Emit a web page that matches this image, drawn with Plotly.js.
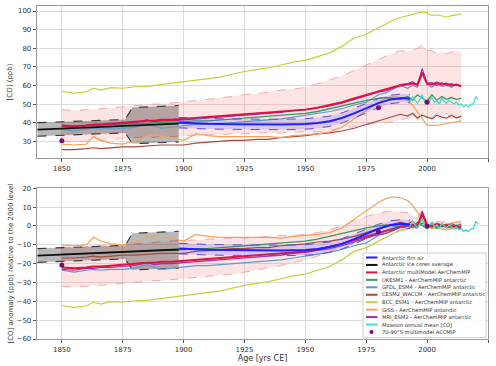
<!DOCTYPE html>
<html>
<head>
<meta charset="utf-8">
<script src="https://cdn.plot.ly/plotly-3.0.1.min.js"></script>
<style>html,body{margin:0;padding:0;background:#fff}#chart{width:496px;height:366px}</style>
</head>
<body>
<div id="chart"></div>
<script>
// ---------- data ----------
const YEARS = [1850,1855,1860,1863,1866,1870,1875,1880,1885,1888,1891,1895,1900,1905,1910,1915,1920,1925,1930,1935,1940,1945,1950,1955,1960,1965,1970,1975,1980,1983,1986,1989,1992,1994,1996,1998,2000,2002,2004,2006,2008,2010,2012,2014];
const MULTI = [38.5,38,38.5,39,39,39.5,40,40.5,41,41,41.5,41.5,42,42.5,43,43.5,44,44.5,45,45.5,46,46.5,47,48,49.5,51,53,55,57,58,59,60,60.5,61,60.5,67,61,60.5,61.5,60.5,61,60,60.5,59.5];
const MULTI_UP = [47,46.5,47,47,47.5,48,48.5,49,49.5,50,50,50.5,51,52,52.5,53.5,54,55,55.5,56.5,57.5,58,59,61,63,65,68,71,74,76,77.5,78.5,78.5,79,80,82,79,78.5,77.5,78,77,78,78.5,78];
const MULTI_LO = [30,29.5,30,31,30.5,31,31.5,32,32.5,32,33,32.5,33,33,33.5,33.5,34,34,34.5,34.5,34.5,35,35,35,36,37,38,39,40,40,40.5,41.5,42.5,43,41,45,43,42.5,45,43,45,42,42.5,41];
const ANOM_UP = [-11,-11.5,-11,-10.5,-10.5,-10.5,-10,-9.5,-9,-8.5,-8.5,-8,-7.5,-7.5,-7,-7,-6.5,-6.5,-6,-5.5,-5,-5,-4.5,-3.5,-2,0,3,5,7,7.5,8,7.5,7,5.5,4,9,1.5,2,2.5,2,2.5,1.5,2,1.5];
const ANOM_LO = [-32,-32.5,-32,-31.5,-31.5,-31,-30.5,-30,-29.5,-29,-29,-28.5,-28,-27.5,-27,-26,-25.5,-24.5,-23.5,-22,-21,-19.5,-18,-16,-13.5,-11,-9,-6.5,-4.5,-3.5,-3,-2,-2,-1.5,-1,3,-1,-1.5,-1,-1.5,-1,-2,-1.5,-1.5];
const UKESM1 = [38,38,38.5,38.5,38.5,39,39,39.5,39.5,40,40,40,40.5,41,41,41.5,42,42.5,43,43.5,44,44.5,45,46,47.5,49,50.5,52,53,53.5,53,52.5,54,52,55,53,51.5,55,52,54,52.5,53.5,52.5,53];
const GFDL = [36.5,35.5,36.5,37,36.5,37,37,37.5,39.5,38,37,37.5,38.5,39,39,39.5,40,40.5,41,41.5,42,43,44,45,46,47.5,49.5,51,55,56,58,60,58.5,60,59,66,60.5,59,61,59.5,60,59,60.5,59.5];
const CESM2 = [25.5,25.5,26,26.5,26,26.5,27,27,27.5,27.5,28,28,28,29,29.5,30,30.5,30.5,31,31,32,32.5,33,34,34.5,35.5,37,39,41,42,43.5,44.5,43.5,45,42.5,44,43,42,44,43,42.5,44,42.5,43.5];
const BCC = [56.8,55.8,56.5,58.5,57.5,58.8,58.5,59.3,59.5,60,60.5,61,62,62.8,63.5,64.5,66,67.5,68.5,69.5,71,72.5,73.5,75.5,77.5,81,85.5,87.5,91,93,95,96.5,97.5,98,98.5,99.5,99,97.5,98,97.5,96.8,97.5,98,98.3];
const GISS = [28.5,28,28.5,32.5,30.5,29,28.5,30,32.5,33.5,32.5,32,30.5,34,33,32.5,32.5,32.5,32.5,32.5,32,33,33.5,34,35,37.5,42,46.5,51,53,54,53.5,52,49.5,46,42,38.5,38.5,38.5,39,39.5,40,40.5,41];
const MRI = [38,37.5,38.5,38.5,39,39,39.5,40,41.5,40.5,41,41,41.5,42,42.5,43,43.5,44,44.5,45,45.5,46.5,47,48,49,50.5,52.5,54.5,56.5,57,58.5,60.5,61,62,60,69,61,61.5,60,61.5,60,61,60,60];

const MAWSON_YEARS = [1992,1993,1994,1995,1996,1997,1998,1999,2000,2001,2002,2003,2004,2005,2006,2007,2008,2009,2010,2011,2012,2013,2014,2015,2016,2017,2018,2019,2020,2021];
const MAWSON = [53,51.5,54,52,50.5,52.5,55,51,50.5,52,53.5,51,52,50,53,51.5,50.5,52,51,50,51,49.5,50,48.5,49.5,48.5,50,50,54,52.5];

const FIRN_YEARS = [1898,1905,1910,1920,1930,1940,1950,1955,1960,1965,1970,1975,1980,1985,1990,1993];
const FIRN = [40,39.6,39.4,39.2,39,39,39.3,39.8,40.8,42.5,45,47.8,50.5,52.5,53.2,52.8];
const FIRN_UP = [42.8,42.4,42.2,42,41.8,41.8,42.1,42.6,43.5,45.2,47.6,50.3,52.9,54.8,55.4,55];
const FIRN_LO = [37.2,36.8,36.6,36.4,36.2,36.2,36.5,37,38,39.8,42.4,45.3,48.1,50.2,51,50.6];

const ICE_YEARS = [1840,1850,1860,1870,1880,1890,1898];
const ICE = [36.3,36.8,37.4,38,38.6,39.1,39.5];
const ICE_BAND_YEARS = [1840,1876,1879,1898];
const ICE_UP = [40,41.7,48.1,49.2];
const ICE_LO = [32.7,34.5,28.7,29.6];

const ACCMIP_YEARS = [1850,1980,2000];
const ACCMIP = [30.3,48,51];

// levels in 2000 used for the anomaly panel
const REF = {multi:60.5, ukesm:53, gfdl:60, cesm:42.5, bcc:99, giss:38.5, mri:61, mawson:51.5, obs:52, accmip:51};

const LEGEND_LABELS = ["Antarctic firn air","Antarctic ice cores average","Antarctic multiModel AerChemMIP","UKESM1 - AerChemMIP antarctic","GFDL_ESM4 - AerChemMIP antarctic","CESM2_WACCM - AerChemMIP antarctic","BCC_ESM1 - AerChemMIP antarctic","GISS - AerChemMIP antarctic","MRI_ESM2 - AerChemMIP antarctic","Mawson annual mean [CO]","70-90°S multimodel ACCMIP"];

// ---------- styles ----------
const C = {firn:'#1f1fff', ice:'#111111', multi:'#e3103f', ukesm:'#3a9a58', gfdl:'#5b9bd0', cesm:'#a34a42', bcc:'#c9cc3c', giss:'#f6a058', mri:'#9a2fb5', mawson:'#3fdcd0', accmip:'#7a0a7a'};
const LEG_COLORS = [C.firn,C.ice,C.multi,C.ukesm,C.gfdl,C.cesm,C.bcc,C.giss,C.mri,C.mawson,C.accmip];

const anom = (arr, ref) => arr.map(v => Math.round((v - ref)*100)/100);

function panel(xa, ya, isAnom) {
  const f = (arr, ref) => isAnom ? anom(arr, ref) : arr;
  const L = (x, y, color, width, dash, extra) => Object.assign({x, y, xaxis:xa, yaxis:ya, type:'scatter', mode:'lines', showlegend:false, hoverinfo:'skip', line:{color, width, dash: dash||'solid'}}, extra||{});
  const t = [];
  // multi-model spread band
  if (isAnom) {
    t.push(L(YEARS, ANOM_LO, '#f2a0a0', 0.9, 'dash'));
    t.push(L(YEARS, ANOM_UP, '#f2a0a0', 0.9, 'dash', {fill:'tonexty', fillcolor:'rgba(240,120,120,0.2)'}));
  } else {
    t.push(L(YEARS, MULTI_LO, '#f2a0a0', 0.9, 'dash'));
    t.push(L(YEARS, MULTI_UP, '#f2a0a0', 0.9, 'dash', {fill:'tonexty', fillcolor:'rgba(240,120,120,0.2)'}));
  }
  // ice cores band
  t.push(L(ICE_BAND_YEARS, f(ICE_LO, REF.obs), '#333', 1.1, 'dash'));
  t.push(L(ICE_BAND_YEARS, f(ICE_UP, REF.obs), '#333', 1.1, 'dash', {fill:'tonexty', fillcolor:'rgba(0,0,0,0.28)'}));
  // models
  t.push(L(YEARS, f(CESM2, REF.cesm), C.cesm, 1.2));
  t.push(L(YEARS, f(GISS, REF.giss), C.giss, 1.2));
  t.push(L(YEARS, f(BCC, REF.bcc), C.bcc, 1.2));
  t.push(L(YEARS, f(GFDL, REF.gfdl), C.gfdl, 1.2));
  t.push(L(YEARS, f(UKESM1, REF.ukesm), C.ukesm, 1.3));
  t.push(L(YEARS, f(MRI, REF.mri), C.mri, 1.2));
  t.push(L(YEARS, f(MULTI, REF.multi), C.multi, 2));
  t.push(L(MAWSON_YEARS, f(MAWSON, REF.mawson), C.mawson, 1.3));
  // firn air
  t.push(L(FIRN_YEARS, f(FIRN_LO, REF.obs), '#5a4fe0', 1, 'dash'));
  t.push(L(FIRN_YEARS, f(FIRN_UP, REF.obs), '#5a4fe0', 1, 'dash', {fill:'tonexty', fillcolor:'rgba(70,70,255,0.18)'}));
  t.push(L(FIRN_YEARS, f(FIRN, REF.obs), C.firn, 2));
  t.push(L(ICE_YEARS, f(ICE, REF.obs), C.ice, 1.8));
  t.push({x:ACCMIP_YEARS, y:f(ACCMIP, REF.accmip), xaxis:xa, yaxis:ya, type:'scatter', mode:'markers', showlegend:false, hoverinfo:'skip', marker:{color:C.accmip, size:5}});
  return t;
}

const data = panel('x','y',false).concat(panel('x2','y2',true));

// ---------- layout ----------
const W = 496, H = 366, ML = 37, MR = 8, MT = 6, MB = 27;
const PW = W - ML - MR, PH = H - MT - MB;
const px2x = p => (p - ML) / PW;
const py2y = p => (H - MB - p) / PH;

const font = {family:'DejaVu Sans, Arial, sans-serif', size:7, color:'#333'};
const axX = {range:[1839.8, 2025], tickvals:[1850,1875,1900,1925,1950,1975,2000,2025], ticks:'outside', ticklen:3, tickcolor:'#555', tickfont:font,
  showgrid:true, gridcolor:'#dcdcdc', gridwidth:1, showline:true, linecolor:'#9a9a9a', linewidth:1.3, mirror:true, zeroline:false};
const axY = {ticks:'outside', ticklen:3, tickcolor:'#555', tickfont:font, showgrid:true, gridcolor:'#dcdcdc', gridwidth:1,
  showline:true, linecolor:'#9a9a9a', linewidth:1.3, mirror:true, zeroline:false};

const shapes = [];
const annotations = [];
// legend box (manual, compact like the reference)
shapes.push({type:'rect', xref:'paper', yref:'paper', x0:px2x(363), x1:px2x(486), y0:py2y(337.5), y1:py2y(253), fillcolor:'rgba(255,255,255,0.85)', line:{color:'#cfcfcf', width:1}, layer:'above'});
LEGEND_LABELS.forEach((lab, i) => {
  const py = 257.5 + i*7.45;
  if (i === LEGEND_LABELS.length - 1) {
    shapes.push({type:'circle', xref:'paper', yref:'paper', x0:px2x(369.5), x1:px2x(373.5), y0:py2y(py+2), y1:py2y(py-2), fillcolor:LEG_COLORS[i], line:{width:0}, layer:'above'});
  } else {
    shapes.push({type:'line', xref:'paper', yref:'paper', x0:px2x(366), x1:px2x(377.5), y0:py2y(py), y1:py2y(py), line:{color:LEG_COLORS[i], width:2}, layer:'above'});
  }
  annotations.push({xref:'paper', yref:'paper', x:px2x(379.5), y:py2y(py), text:lab, showarrow:false, xanchor:'left', yanchor:'middle', font:{family:font.family, size:5.2, color:'#333'}});
});

const layout = {
  width:W, height:H, margin:{l:ML, r:MR, t:MT, b:MB}, paper_bgcolor:'#fff', plot_bgcolor:'#fff', showlegend:false, font:font,
  xaxis: Object.assign({}, axX, {anchor:'y'}),
  yaxis: Object.assign({}, axY, {domain:[py2y(158), 1], range:[21, 102.7], tickvals:[30,40,50,60,70,80,90,100], title:{text:'[CO] (ppb)', font:{family:font.family, size:7, color:'#333'}, standoff:4}}),
  xaxis2: Object.assign({}, axX, {anchor:'y2', title:{text:'Age [yrs CE]', font:{family:font.family, size:8, color:'#333'}, standoff:1}}),
  yaxis2: Object.assign({}, axY, {domain:[0, py2y(188.3)], range:[-60, 20], tickvals:[-60,-50,-40,-30,-20,-10,0,10,20], title:{text:'[CO] anomaly (ppb) relative to the 2000 level', font:{family:font.family, size:7, color:'#333'}, standoff:2}}),
  shapes, annotations
};

Plotly.newPlot('chart', data, layout, {displayModeBar:false, staticPlot:true});
</script>
</body>
</html>
